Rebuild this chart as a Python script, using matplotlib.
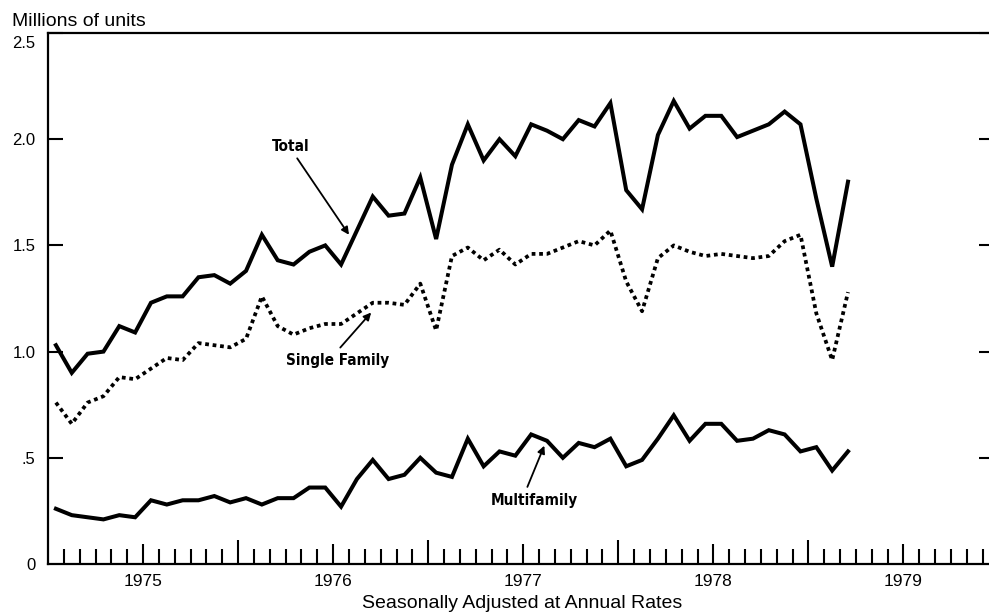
import numpy as np
import matplotlib
matplotlib.use("Agg")
import matplotlib.pyplot as plt
from matplotlib.ticker import FixedLocator, NullFormatter, FixedFormatter
import matplotlib.transforms as mtransforms

# monthly values, Jan 1975 onward (millions of units, SAAR)
total = [1.03, 0.90, 0.99, 1.00, 1.12, 1.09, 1.23, 1.26, 1.26, 1.35,
         1.36, 1.32, 1.38, 1.55, 1.43, 1.41, 1.47, 1.50, 1.41, 1.57,
         1.73, 1.64, 1.65, 1.82, 1.53, 1.88, 2.07, 1.90, 2.00, 1.92,
         2.07, 2.04, 2.00, 2.09, 2.06, 2.17, 1.76, 1.67, 2.02, 2.18,
         2.05, 2.11, 2.11, 2.01, 2.04, 2.07, 2.13, 2.07, 1.72, 1.40, 1.80]
single = [0.76, 0.66, 0.76, 0.79, 0.88, 0.87, 0.92, 0.97, 0.96, 1.04,
          1.03, 1.02, 1.06, 1.26, 1.12, 1.08, 1.11, 1.13, 1.13, 1.18,
          1.23, 1.23, 1.22, 1.32, 1.10, 1.45, 1.49, 1.43, 1.48, 1.41,
          1.46, 1.46, 1.49, 1.52, 1.50, 1.57, 1.33, 1.19, 1.44, 1.50,
          1.47, 1.45, 1.46, 1.45, 1.44, 1.45, 1.52, 1.55, 1.18, 0.96, 1.28]
multi = [0.26, 0.23, 0.22, 0.21, 0.23, 0.22, 0.30, 0.28, 0.30, 0.30,
         0.32, 0.29, 0.31, 0.28, 0.31, 0.31, 0.36, 0.36, 0.27, 0.40,
         0.49, 0.40, 0.42, 0.50, 0.43, 0.41, 0.59, 0.46, 0.53, 0.51,
         0.61, 0.58, 0.50, 0.57, 0.55, 0.59, 0.46, 0.49, 0.59, 0.70,
         0.58, 0.66, 0.66, 0.58, 0.59, 0.63, 0.61, 0.53, 0.55, 0.44, 0.53]

years = ["1975", "1976", "1977", "1978", "1979"]
yticks = [0, 0.5, 1.0, 1.5, 2.0, 2.5]
ytick_labels = ["0", ".5", "1.0", "1.5", "2.0", "2.5"]

plt.rcParams['font.family'] = ['Liberation Sans', 'DejaVu Sans']
label_font = ['Liberation Sans Narrow', 'DejaVu Sans']

fig = plt.figure(figsize=(9.89, 6.14), dpi=100)
ax = fig.add_axes([48/989, 50/614, 1 - 48/989, 531/614])

months = np.arange(len(total)) + 0.5
ax.plot(months, total, color='black', lw=2.9, solid_joinstyle='miter')
ax.plot(months, multi, color='black', lw=2.9, solid_joinstyle='miter')
ax.plot(months, single, color='black', lw=2.7, ls=(0, (1, 1.0)),
        dash_capstyle='butt')

ax.set_xlim(0, 59.4)
ax.set_ylim(0, 2.5)

# spines
for s in ['left', 'bottom', 'top']:
    ax.spines[s].set_linewidth(1.6)
ax.spines['right'].set_visible(False)

# y ticks on both sides, pointing in
ax.yaxis.set_major_locator(FixedLocator(yticks))
ax.yaxis.set_major_formatter(FixedFormatter(ytick_labels))
ax.tick_params(axis='y', which='major', direction='in', length=11, width=1.5,
               labelsize=12, pad=9, right=True)
for t in ax.yaxis.get_major_ticks():
    t.tick2line.set_markersize(7)
# top label sits a little lower in the original
top_lab = ax.yaxis.get_major_ticks()[-1].label1
top_lab.set_transform(top_lab.get_transform() +
                      mtransforms.ScaledTranslation(0, -9/100, fig.dpi_scale_trans))
ax.yaxis.get_major_ticks()[0].tick1line.set_visible(False)
ax.yaxis.get_major_ticks()[0].tick2line.set_visible(False)

# x: mid-year ticks carry the year, plus monthly minor ticks
mid = [6 + 12*k for k in range(len(years))]
ax.xaxis.set_major_locator(FixedLocator(mid))
ax.xaxis.set_major_formatter(FixedFormatter(years))
ax.xaxis.set_minor_locator(FixedLocator([m for m in range(1, 60) if m % 6 != 0]))
ax.xaxis.set_minor_formatter(NullFormatter())
ax.tick_params(axis='x', which='major', direction='in', length=14.5, width=1.5,
               labelsize=12.5, pad=7)
ax.tick_params(axis='x', which='minor', direction='in', length=11, width=1.5)

sec = ax.secondary_xaxis('bottom')
sec.xaxis.set_major_locator(FixedLocator([12*k for k in range(1, 5)]))
sec.xaxis.set_major_formatter(NullFormatter())
sec.tick_params(direction='in', length=17.5, width=1.5)
sec.spines['bottom'].set_visible(False)

fig.text(522/989, 1 - 603/614, "Seasonally Adjusted at Annual Rates",
         fontsize=14, ha='center', va='center')
fig.text(12/989, 1 - 21/614, "Millions of units", fontsize=14,
         va='center', ha='left')

# series labels with pointer arrows
lab_kw = dict(family=label_font, fontstretch='condensed', fontsize=11,
              weight='bold', ha='center', va='center')
arr = dict(arrowstyle='-|>', color='black', lw=1.3, mutation_scale=11,
           shrinkA=0, shrinkB=0)
ax.text(15.35, 1.967, "Total", **lab_kw)
ax.annotate("", xy=(19.0, 1.55), xytext=(15.73, 1.91), arrowprops=arr)
ax.text(18.26, 0.958, "Single Family", **lab_kw)
ax.annotate("", xy=(20.4, 1.184), xytext=(18.45, 1.019), arrowprops=arr)
ax.text(30.7, 0.297, "Multifamily", **lab_kw)
ax.annotate("", xy=(31.33, 0.557), xytext=(30.26, 0.363), arrowprops=arr)

fig.savefig("out.png", dpi=100)
